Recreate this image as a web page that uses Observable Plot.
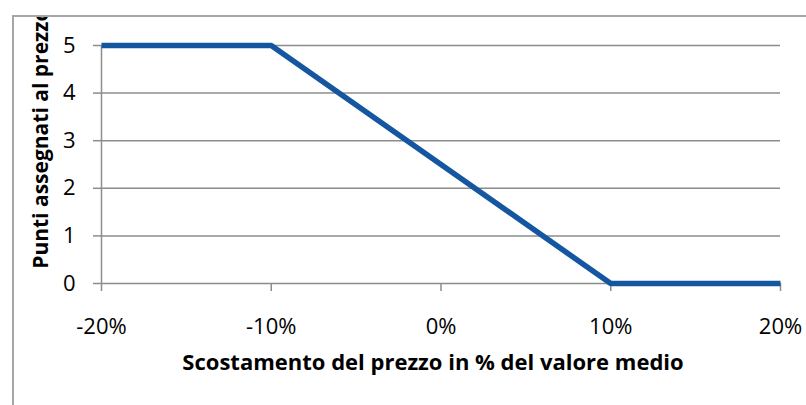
<!DOCTYPE html>
<html>
<head>
<meta charset="utf-8">
<script src="https://cdn.jsdelivr.net/npm/d3@7"></script>
<script src="https://cdn.jsdelivr.net/npm/@observablehq/plot@0.6"></script>
<style>
  html, body { margin: 0; padding: 0; background: #fff; overflow: hidden; }
  #box { position: absolute; left: 12px; top: 15px; width: 820px; height: 420px;
         border-left: 2px solid #a6a6a6; border-top: 2px solid #a6a6a6; background: #fff; overflow: hidden; }
  #box svg { display: block; overflow: hidden; }
</style>
</head>
<body>
<div id="box"></div>
<script>
// Data
const scostamento = [-20, -10, 10, 20];        // % deviation from average price
const punti = [5, 5, 0, 0];                     // points assigned
const xTicks = [-20, -10, 0, 10, 20];
const yTicks = [0, 1, 2, 3, 4, 5];
const xTitle = "Scostamento del prezzo in % del valore medio";
const yTitle = "Punti assegnati al prezzo";

const data = scostamento.map((x, i) => ({x, y: punti[i]}));
const gray = "#8c8c8c";

const chart = Plot.plot({
  width: 792,
  height: 388,
  marginLeft: 87,
  marginTop: 28,
  marginRight: 26,
  marginBottom: 122,
  style: {fontFamily: "'Open Sans', sans-serif", fontSize: "22px", color: "#000", background: "transparent", overflow: "hidden"},
  x: {domain: [-20, 20]},
  y: {domain: [0, 5]},
  marks: [
    Plot.gridY(yTicks.filter(d => d > 0), {stroke: gray, strokeOpacity: 1, strokeWidth: 1.5}),
    Plot.ruleX([-20], {stroke: gray, strokeWidth: 1.5}),
    Plot.ruleY([0], {stroke: gray, strokeWidth: 1.5}),
    Plot.axisY({ticks: yTicks, tickSize: 8, tickPadding: 18, stroke: gray, strokeWidth: 1.5, label: null, fontSize: 22, tickFormat: d => String(d)}),
    Plot.axisX({ticks: xTicks, tickSize: 8, tickPadding: 27, stroke: gray, strokeWidth: 1.5, label: null, fontSize: 22, tickFormat: d => `${d}%`}),
    Plot.line(data, {x: "x", y: "y", stroke: "#1457a0", strokeWidth: 5.5, strokeLinejoin: "miter", strokeLinecap: "butt"}),
    Plot.text([xTitle], {frameAnchor: "bottom", dx: -8, dy: 79, fontWeight: "bold", fontSize: 22, fill: "#000", lineAnchor: "middle"}),
    Plot.text([yTitle], {frameAnchor: "bottom-left", dx: -60, dy: -14.7, rotate: -90, textAnchor: "start", lineAnchor: "middle", fontWeight: "bold", fontSize: 21, fill: "#000"})
  ]
});
document.getElementById("box").appendChild(chart);
</script>
</body>
</html>
